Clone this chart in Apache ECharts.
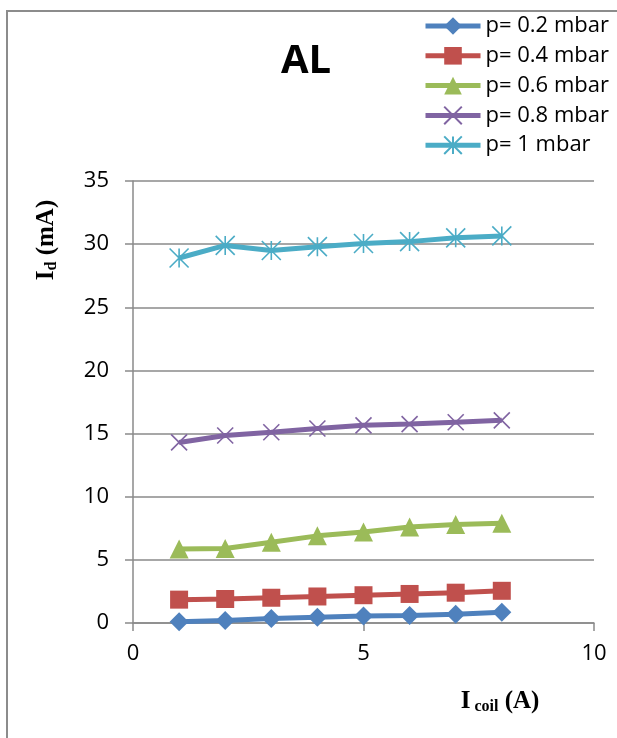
<!DOCTYPE html>
<html>
<head>
<meta charset="utf-8">
<title>AL</title>
<script src="https://cdn.jsdelivr.net/npm/echarts@6/dist/echarts.min.js"></script>
<style>
  html, body { margin: 0; padding: 0; background: #fff; }
  #chart { width: 617px; height: 738px; }
</style>
</head>
<body>
<div id="chart"></div>
<script>
// Coil current (A)
const coilCurrent = [1, 2, 3, 4, 5, 6, 7, 8];

// Discharge current Id (mA) at each pressure
const id_p02 = [0.1, 0.2, 0.35, 0.45, 0.55, 0.6, 0.7, 0.85];
const id_p04 = [1.85, 1.9, 2.0, 2.1, 2.2, 2.3, 2.4, 2.55];
const id_p06 = [5.85, 5.9, 6.4, 6.9, 7.2, 7.6, 7.8, 7.9];
const id_p08 = [14.3, 14.85, 15.1, 15.4, 15.65, 15.75, 15.9, 16.05];
const id_p10 = [28.9, 29.9, 29.5, 29.8, 30.05, 30.2, 30.5, 30.65];

const seriesNames = ['p= 0.2 mbar', 'p= 0.4 mbar', 'p= 0.6 mbar', 'p= 0.8 mbar', 'p= 1 mbar'];
const seriesValues = [id_p02, id_p04, id_p06, id_p08, id_p10];
const seriesColors = ['#4F81BD', '#C0504D', '#9BBB59', '#8064A2', '#4BACC6'];
const seriesSymbols = [
  'diamond',
  'rect',
  'triangle',
  'path://M0 0L16 16M16 0L0 16',
  'path://M0 0L20 20M20 0L0 20M10 0L10 20'
];
const symbolSizes = [19, 18, 19, 16, 19];

const gridColor = '#8a8a8a';
const sansFont = 'Open Sans';
const serifFont = 'Liberation Serif';

const chart = echarts.init(document.getElementById('chart'), null, { renderer: 'canvas' });

const series = seriesNames.map((name, i) => ({
  name: name,
  type: 'line',
  data: coilCurrent.map((x, k) => [x, seriesValues[i][k]]),
  symbol: seriesSymbols[i],
  symbolSize: symbolSizes[i],
  showAllSymbol: true,
  lineStyle: { color: seriesColors[i], width: 5 },
  itemStyle: {
    color: seriesColors[i],
    borderColor: seriesColors[i],
    borderWidth: i >= 3 ? 1.6 : 0
  },
  z: 3
}));

chart.setOption({
  animation: false,
  backgroundColor: '#fff',
  title: {
    text: 'AL',
    left: 301,
    top: 37,
    textAlign: 'center',
    textStyle: { fontFamily: sansFont, fontSize: 40, fontWeight: 'bold', color: '#000' }
  },
  legend: {
    orient: 'vertical',
    left: 423,
    top: 15,
    padding: 0,
    itemWidth: 55,
    itemHeight: 22,
    itemGap: 7.8,
    lineStyle: { width: 5 },
    textStyle: { fontFamily: sansFont, fontSize: 22, color: '#000' },
    data: seriesNames
  },
  grid: {
    left: 133,
    right: 23,
    top: 181,
    bottom: 115,
    containLabel: false
  },
  xAxis: {
    type: 'value',
    min: 0,
    max: 10,
    interval: 5,
    axisLine: { show: true, lineStyle: { color: gridColor, width: 1.5 } },
    axisTick: { show: true, inside: false, length: 8, lineStyle: { color: gridColor, width: 1.5 } },
    axisLabel: { margin: 20, fontFamily: sansFont, fontSize: 22, color: '#000' },
    splitLine: { show: false }
  },
  yAxis: {
    type: 'value',
    min: 0,
    max: 35,
    interval: 5,
    axisLine: { show: true, lineStyle: { color: gridColor, width: 1.5 } },
    axisTick: { show: true, inside: false, length: 8, lineStyle: { color: gridColor, width: 1.5 } },
    axisLabel: { margin: 24, fontFamily: sansFont, fontSize: 22, color: '#000' },
    splitLine: { show: true, lineStyle: { color: gridColor, width: 1.5 } }
  },
  graphic: [
    {
      type: 'rect',
      silent: true,
      z: -10,
      shape: { x: 7, y: 11, width: 900, height: 900 },
      style: { fill: 'none', stroke: '#8c8c8c', lineWidth: 2 }
    },
    {
      type: 'text',
      silent: true,
      x: 500,
      y: 702,
      style: {
        text: '{m|I}{s| coil}{m| (A)}',
        align: 'center',
        verticalAlign: 'middle',
        rich: {
          m: { fontFamily: serifFont, fontSize: 25, fontWeight: 'bold', fill: '#000' },
          s: { fontFamily: serifFont, fontSize: 16, fontWeight: 'bold', fill: '#000', padding: [10, 0, 0, 0] }
        }
      }
    },
    {
      type: 'text',
      silent: true,
      x: 47,
      y: 240,
      rotation: Math.PI / 2,
      style: {
        text: '{m|I}{s|d}{m| (mA)}',
        align: 'center',
        verticalAlign: 'middle',
        rich: {
          m: { fontFamily: serifFont, fontSize: 25, fontWeight: 'bold', fill: '#000' },
          s: { fontFamily: serifFont, fontSize: 16, fontWeight: 'bold', fill: '#000', padding: [10, 0, 0, 0] }
        }
      }
    }
  ],
  series: series
});
</script>
</body>
</html>
